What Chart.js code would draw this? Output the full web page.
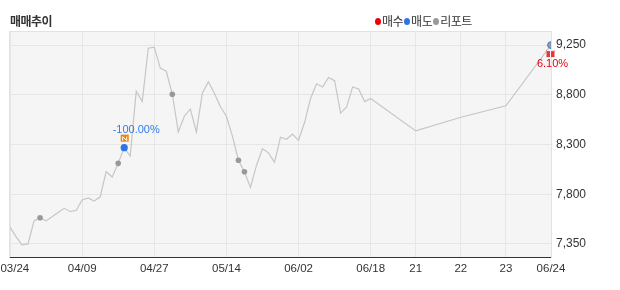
<!DOCTYPE html>
<html>
<head>
<meta charset="utf-8">
<script src="https://cdn.jsdelivr.net/npm/chart.js@4.4.1/dist/chart.umd.min.js"></script>
<style>
  html, body { margin: 0; padding: 0; background: #fff; }
  #wrap { position: relative; width: 620px; height: 290px; }
  #title { position: absolute; left: 10px; top: 12px; font: bold 12px "Noto Sans CJK KR"; color: #333; letter-spacing: -0.5px; }
  #legend { position: absolute; left: 374px; top: 12px; font: 12px "Noto Sans CJK KR"; color: #333; white-space: nowrap; letter-spacing: -0.5px; }
  #legend .dot { display: inline-block; width: 6px; height: 7px; border-radius: 50%; margin: 0 1px 0 1px; vertical-align: 1px; }
  canvas { position: absolute; left: 0; top: 0; }
</style>
</head>
<body>
<div id="wrap">
  <canvas id="tradeChart" width="620" height="290"></canvas>
  <div id="title">매매추이</div>
  <div id="legend"></div>
</div>
<script>
// daily closes 03/24 ~ 06/18
const dailyPrices = [
  7510, 7420, 7340, 7350, 7570, 7600, 7570, 7610, 7650, 7690,
  7660, 7670, 7770, 7790, 7760, 7800, 8040, 7990, 8120, 8270,
  8190, 8810, 8710, 9220, 9230, 9030, 9000, 8780, 8420, 8570,
  8640, 8420, 8790, 8900, 8790, 8660, 8570, 8380, 8150, 8040,
  7890, 8100, 8260, 8220, 8130, 8370, 8350, 8400, 8340, 8510,
  8740, 8880, 8850, 8940, 8910, 8600, 8660, 8850, 8830, 8710,
  8740
];
// last week 06/21 ~ 06/24
const recentPrices = [8430, 8560, 8670, 9250];

const xTickLabels = ['03/24', '04/09', '04/27', '05/14', '06/02', '06/18', '21', '22', '23', '06/24'];
const xTickIndex = [0, 12, 24, 36, 48, 60, 61, 62, 63, 64];
const yTickValues = [7350, 7825, 8300, 8775, 9250];
const yTickLabels = ['7,350', '7,800', '8,300', '8,800', '9,250'];

const reportIndex = [5, 18, 27, 38, 39];
const sellIndex = [19];
const sellReturns = ['-100.00%'];
const buyIndex = [64];
const buyReturns = ['6.10%'];

const legendNames = ['매수', '매도', '리포트'];
const legendColors = ['#e8000b', '#2f74e6', '#9a9a9a'];

// the last week is drawn wider than the daily part
const prices = dailyPrices.concat(recentPrices);
const lastDaily = dailyPrices.length - 1;
const xOf = i => i <= lastDaily ? i : lastDaily + (i - lastDaily) * 7.5;

const pricePoints = prices.map((p, i) => ({ x: xOf(i), y: p }));
const pick = idx => idx.map(i => ({ x: xOf(i), y: prices[i] }));

// legend
const legendEl = document.getElementById('legend');
legendNames.forEach((name, i) => {
  const d = document.createElement('span');
  d.className = 'dot';
  d.style.background = legendColors[i];
  legendEl.appendChild(d);
  legendEl.appendChild(document.createTextNode(name));
});

const plotBackground = {
  id: 'plotBackground',
  beforeDraw(chart) {
    const { ctx, chartArea: a } = chart;
    ctx.save();
    ctx.fillStyle = '#f5f5f5';
    ctx.fillRect(a.left, a.top, a.right - a.left, a.bottom - a.top);
    ctx.strokeStyle = '#e2e2e2';
    ctx.lineWidth = 1;
    ctx.strokeRect(a.left - 0.5, a.top - 0.5, a.right - a.left + 1, a.bottom - a.top + 1);
    ctx.restore();
  }
};

const tradeMarks = {
  id: 'tradeMarks',
  afterDatasetsDraw(chart) {
    const { ctx } = chart;
    const xs = chart.scales.x, ys = chart.scales.y;
    ctx.save();
    ctx.font = '11px "Liberation Sans"';
    ctx.textAlign = 'center';
    ctx.textBaseline = 'middle';
    sellIndex.forEach((idx, k) => {
      const px = xs.getPixelForValue(xOf(idx));
      const py = ys.getPixelForValue(prices[idx]);
      ctx.fillStyle = '#f08300';
      ctx.fillRect(px - 3.5, py - 13, 8, 7);
      ctx.strokeStyle = '#fff';
      ctx.lineWidth = 1;
      ctx.beginPath();
      ctx.moveTo(px - 1.5, py - 7); ctx.lineTo(px - 1.5, py - 11); ctx.lineTo(px + 2.5, py - 7); ctx.lineTo(px + 2.5, py - 11);
      ctx.stroke();
      ctx.fillStyle = '#2f7cf0';
      ctx.fillText(sellReturns[k], px + 12, py - 18);
    });
    buyIndex.forEach((idx, k) => {
      const px = xs.getPixelForValue(xOf(idx));
      const py = ys.getPixelForValue(prices[idx]);
      ctx.fillStyle = '#e23a3a';
      ctx.fillRect(px - 4.5, py + 5, 8, 7);
      ctx.fillStyle = '#fff';
      ctx.fillRect(px - 1, py + 6, 1, 6);
      ctx.fillRect(px - 4, py + 5, 7, 1);
      ctx.fillStyle = '#e8000b';
      ctx.fillText(buyReturns[k], px + 1.5, py + 19);
    });
    ctx.restore();
  }
};

const tickFont = { family: '"Liberation Sans"', size: 11.5 };

new Chart(document.getElementById('tradeChart'), {
  type: 'line',
  data: {
    datasets: [
      { data: pricePoints, borderColor: '#c6c6c6', borderWidth: 1.2, pointRadius: 0, tension: 0, order: 4 },
      { data: pick(reportIndex), showLine: false, pointRadius: 2.8, pointBackgroundColor: '#999', pointBorderWidth: 0, order: 3 },
      { data: pick(sellIndex), showLine: false, pointRadius: 3.6, pointBackgroundColor: '#2f74e6', pointBorderWidth: 0, order: 2 },
      { data: pick(buyIndex), showLine: false, pointRadius: 3.4, pointBackgroundColor: '#999', pointBorderColor: '#3a7bec', pointBorderWidth: 1, order: 1 }
    ]
  },
  options: {
    responsive: false,
    animation: false,
    events: [],
    layout: { padding: { left: 10, top: 32, right: 0, bottom: 0 } },
    plugins: { legend: { display: false }, tooltip: { enabled: false } },
    scales: {
      x: {
        type: 'linear',
        min: 0,
        max: xOf(prices.length - 1),
        afterBuildTicks: s => { s.ticks = xTickIndex.map(i => ({ value: xOf(i) })); },
        afterFit: s => { s.height = 33; s.paddingLeft = 0; s.paddingRight = 0; },
        grid: { color: '#e6e6e6', drawTicks: false },
        border: { color: '#333' },
        ticks: {
          padding: 5, color: '#333', font: tickFont, maxRotation: 0, autoSkip: false,
          callback: (v, i) => i === 0 ? '   ' + xTickLabels[i] : xTickLabels[i]
        }
      },
      y: {
        position: 'right',
        min: 7225,
        max: 9375,
        afterBuildTicks: s => { s.ticks = yTickValues.map(v => ({ value: v })); },
        afterFit: s => { s.width = 69; },
        grid: { color: '#e6e6e6', drawTicks: false },
        border: { color: '#e2e2e2' },
        ticks: { padding: 5, color: '#333', font: { family: '"Liberation Sans"', size: 12 }, callback: (v, i) => yTickLabels[i] }
      }
    }
  },
  plugins: [plotBackground, tradeMarks]
});
</script>
</body>
</html>
